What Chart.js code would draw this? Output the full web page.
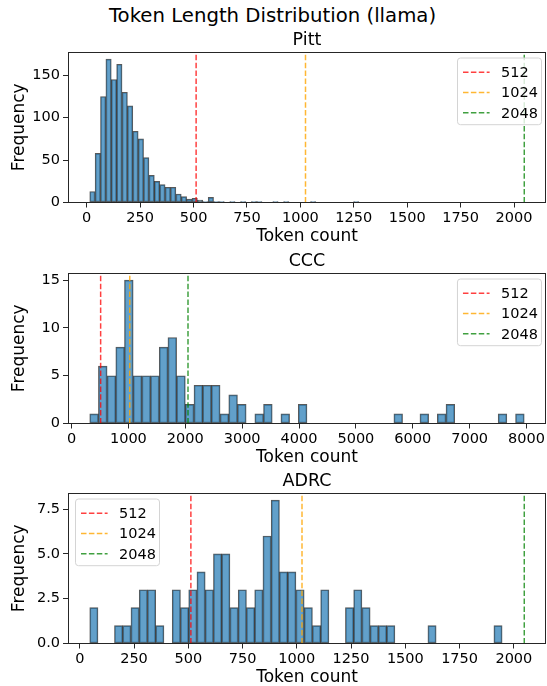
<!DOCTYPE html>
<html>
<head>
<meta charset="utf-8">
<script src="https://cdn.jsdelivr.net/npm/chart.js@4.4.1/dist/chart.umd.min.js"></script>
<style>
  html, body { margin: 0; padding: 0; background: #fff; overflow: hidden; }
  body { width: 547px; height: 686px; position: relative; font-family: "DejaVu Sans", sans-serif; }
  #suptitle { position: absolute; left: 0; top: 4px; width: 545px; text-align: center;
              font-size: 19.7px; line-height: 24px; color: #000; }
  .panel { position: absolute; left: 0; width: 547px; height: 220px; }
</style>
</head>
<body>
<div id="suptitle">Token Length Distribution (llama)</div>
<div class="panel" style="top:28px"><canvas id="pitt"></canvas></div>
<div class="panel" style="top:248.7px"><canvas id="ccc"></canvas></div>
<div class="panel" style="top:469.3px"><canvas id="adrc"></canvas></div>
<script>
// context window limits shown as dashed lines
const thresholds = [512, 1024, 2048];
const thresholdLabels = ["512", "1024", "2048"];

// Pitt: 50 bins
const pittBinStart = 14;
const pittBinWidth = 25.2;
const pittCounts = [13, 58, 125, 169, 145, 163, 130, 114, 84, 75,
                    53, 32, 25, 21, 18, 18, 10, 7, 4, 5,
                    3, 1, 6, 1, 1, 0, 1, 0, 1, 0,
                    1, 1, 0, 0, 1, 0, 1, 0, 0, 0,
                    0, 1, 0, 0, 0, 0, 0, 0, 0, 1];
const pittXTicks = [0, 250, 500, 750, 1000, 1250, 1500, 1750, 2000];
const pittYTicks = [0, 50, 100, 150];

// CCC
const cccBinStart = 320;
const cccBinWidth = 152.8;
const cccCounts = [1, 6, 5, 8, 15, 5, 5, 5, 8, 9,
                   5, 2, 4, 4, 4, 1, 3, 2, 0, 1,
                   2, 0, 1, 0, 2, 0, 0, 0, 0, 0,
                   0, 0, 0, 0, 0, 1, 0, 0, 1, 0,
                   1, 2, 0, 0, 0, 0, 0, 1, 0, 1];
const cccXTicks = [0, 1000, 2000, 3000, 4000, 5000, 6000, 7000, 8000];
const cccYTicks = [0, 5, 10, 15];

// ADRC
const adrcBinStart = 46;
const adrcBinWidth = 38;
const adrcCounts = [2, 0, 0, 1, 1, 2, 3, 3, 1, 0,
                    3, 2, 3, 4, 3, 5, 5, 2, 3, 2,
                    3, 6, 8, 4, 4, 3, 2, 1, 3, 0,
                    0, 2, 3, 2, 1, 1, 1, 0, 0, 0,
                    0, 1, 0, 0, 0, 0, 0, 0, 0, 1];
const adrcXTicks = [0, 250, 500, 750, 1000, 1250, 1500, 1750, 2000];
const adrcYTicks = [0, 2.5, 5, 7.5];

const lineColors = ["rgba(255,0,0,0.75)", "rgba(255,165,0,0.8)", "rgba(0,128,0,0.75)"];
const FONT = '"DejaVu Sans", sans-serif';
const DASH = [5.5, 2.4];

// frame, subplot title and matplotlib-like legend box
const framePlugin = {
  id: "frame",
  afterDatasetsDraw(chart, args, opts) {
    const ctx = chart.ctx;
    const a = chart.chartArea;
    ctx.save();
    ctx.strokeStyle = "#262626";
    ctx.lineWidth = 1;
    ctx.setLineDash([]);
    ctx.strokeRect(Math.round(a.left) + 0.5, Math.round(a.top) + 0.5,
                   Math.round(a.right - a.left) - 1, Math.round(a.bottom - a.top) - 1);

    ctx.fillStyle = "#000";
    ctx.font = "17.5px " + FONT;
    ctx.textAlign = "center";
    ctx.textBaseline = "middle";
    ctx.fillText(opts.title, (a.left + a.right) / 2, a.top - 12);

    const bw = 84, bh = 66.7;
    const bx = opts.legendSide === "left" ? a.left + 7 : a.right - 5 - bw;
    const by = a.top + 5.5;
    ctx.beginPath();
    ctx.roundRect(bx + 0.5, by + 0.5, bw, bh, 3);
    ctx.fillStyle = "rgba(255,255,255,0.8)";
    ctx.fill();
    ctx.strokeStyle = "#d4d4d4";
    ctx.stroke();

    const lines = chart.data.datasets.filter(d => d.type === "line");
    ctx.font = "14.5px " + FONT;
    ctx.textAlign = "left";
    lines.forEach((d, j) => {
      const y = by + 14.7 + 20.3 * j;
      ctx.beginPath();
      ctx.setLineDash(DASH);
      ctx.lineWidth = 1.5;
      ctx.strokeStyle = d.borderColor;
      ctx.moveTo(bx + 6, y);
      ctx.lineTo(bx + 32.6, y);
      ctx.stroke();
      ctx.setLineDash([]);
      ctx.fillStyle = "#000";
      ctx.fillText(d.label, bx + 44, y + 1);
    });
    ctx.restore();
  }
};

function makePanel(id, title, binStart, binWidth, counts, xTicks, yTicks, yDecimals, legendSide) {
  const bars = counts.map((c, i) => ({ x: binStart + binWidth * (i + 0.5), y: c }));
  const yMax = Math.max(...counts) * 1.05;
  const lo = Math.min(binStart, thresholds[0]);
  const hi = Math.max(binStart + binWidth * counts.length, thresholds[2]);
  const pad = (hi - lo) * 0.05;

  const lineSets = thresholds.map((t, j) => ({
    type: "line",
    label: thresholdLabels[j],
    data: [{ x: t, y: 0 }, { x: t, y: yMax }],
    borderColor: lineColors[j],
    borderDash: DASH,
    borderWidth: 1.5,
    pointRadius: 0,
    fill: false,
    order: 1
  }));

  new Chart(document.getElementById(id), {
    type: "bar",
    data: {
      datasets: [{
        type: "bar",
        label: "count",
        data: bars,
        backgroundColor: "rgba(31,119,180,0.7)",
        borderColor: "rgba(0,0,0,0.65)",
        borderWidth: 1,
        borderSkipped: false,
        barPercentage: 1,
        categoryPercentage: 1,
        order: 2
      }, ...lineSets]
    },
    options: {
      responsive: true,
      maintainAspectRatio: false,
      animation: false,
      layout: { padding: { top: 24, left: 0, right: 1, bottom: 0 } },
      plugins: {
        legend: { display: false },
        tooltip: { enabled: false },
        frame: { title: title, legendSide: legendSide }
      },
      scales: {
        x: {
          type: "linear",
          offset: false,
          min: lo - pad,
          max: hi + pad,
          afterBuildTicks: s => { s.ticks = xTicks.map(v => ({ value: v })); },
          afterFit: s => { s.height = 45.5; },
          grid: { display: true, offset: false, drawOnChartArea: false, drawTicks: true,
                  tickLength: 5, color: "#262626" },
          border: { display: false },
          ticks: { color: "#000", font: { family: FONT, size: 14.5 }, padding: 2, maxRotation: 0,
                   autoSkip: false, callback: v => String(v) },
          title: { display: true, text: "Token count", color: "#000",
                   font: { family: FONT, size: 17 }, padding: { top: 0, bottom: 1 } }
        },
        y: {
          min: 0,
          max: yMax,
          afterBuildTicks: s => { s.ticks = yTicks.map(v => ({ value: v })); },
          afterFit: s => { s.width = 68; },
          grid: { display: true, offset: false, drawOnChartArea: false, drawTicks: true,
                  tickLength: 5, color: "#262626" },
          border: { display: false },
          ticks: { color: "#000", font: { family: FONT, size: 14.5 }, padding: 3,
                   autoSkip: false, callback: v => v.toFixed(yDecimals) },
          title: { display: true, text: "Frequency", color: "#000",
                   font: { family: FONT, size: 17 }, padding: { top: 9, bottom: 0 } }
        }
      }
    },
    plugins: [framePlugin]
  });
}

makePanel("pitt", "Pitt", pittBinStart, pittBinWidth, pittCounts, pittXTicks, pittYTicks, 0, "right");
makePanel("ccc", "CCC", cccBinStart, cccBinWidth, cccCounts, cccXTicks, cccYTicks, 0, "right");
makePanel("adrc", "ADRC", adrcBinStart, adrcBinWidth, adrcCounts, adrcXTicks, adrcYTicks, 1, "left");
</script>
</body>
</html>
